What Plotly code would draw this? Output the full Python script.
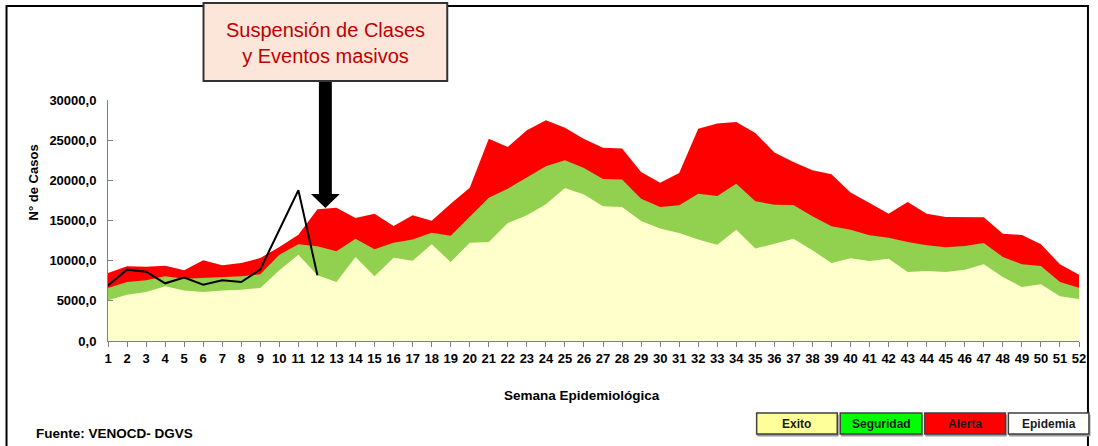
import plotly.graph_objects as go

# ---- data ----
weeks = list(range(1, 53))

alerta = [8470, 9300, 9250, 9380, 8800, 10040, 9420, 9700, 10330, 11700,
          13240, 16390, 16600, 15310, 15850, 14320, 15650, 14980, 17100, 19090,
          25190, 24150, 26230, 27470, 26560, 25130, 24070, 23950, 21040, 19710,
          20920, 26435, 27060, 27265, 25900, 23450, 22290, 21250, 20750, 18470,
          17180, 15850, 17300, 15850, 15440, 15440, 15400, 13360, 13200, 12035,
          9545, 8260]

seguridad = [6600, 7345, 7550, 8050, 7760, 7885, 7970, 8050, 8300, 10750,
             12035, 11790, 11160, 12740, 11410, 12240, 12620, 13490, 13110, 15440,
             17845, 18965, 20335, 21750, 22490, 21550, 20170, 20090, 17720, 16680,
             16890, 18340, 18050, 19590, 17390, 16970, 16930, 15520, 14280, 13860,
             13155, 12865, 12325, 11910, 11660, 11830, 12200, 10460, 9545, 9340,
             7345, 6640]

exito = [5063, 5770, 6100, 6800, 6300, 6100, 6300, 6390, 6600, 8800,
         10750, 8175, 7345, 10460, 8050, 10375, 10000, 12035, 9835, 12240,
         12325, 14690, 15645, 17015, 19050, 18240, 16770, 16680, 14940, 13990,
         13450, 12620, 11995, 13860, 11500, 12120, 12740, 11290, 9710, 10290,
         9960, 10250, 8590, 8715, 8590, 8880, 9545, 7970, 6720, 7055,
         5560, 5230]

epidemia_weeks = list(range(1, 13))
epidemia = [6900, 8880, 8630, 7180, 7885, 7010, 7550, 7345, 8920, 13800, 18760, 8175]

y_ticks = [0, 5000, 10000, 15000, 20000, 25000, 30000]
y_ticklabels = ["0,0", "5000,0", "10000,0", "15000,0", "20000,0", "25000,0", "30000,0"]

legend_labels = ["Exito", "Seguridad", "Alerta", "Epidemia"]
legend_colors = ["#FFFF99", "#00FF00", "#FF0000", "#FFFFFF"]

# ---- layout geometry helpers (pixels -> paper) ----
W, H = 1098, 446
L, R, T, B = 108, 14, 100, 105
PW, PH = W - L - R, H - T - B


def px(x):
    return (x - L) / PW


def py(y):
    return (H - B - y) / PH


fig = go.Figure()

fig.add_trace(go.Scatter(x=weeks, y=alerta, mode="lines", line=dict(width=0, color="#FF0000"),
                         fill="tozeroy", fillcolor="#FF0000", name="Alerta", hoverinfo="skip"))
fig.add_trace(go.Scatter(x=weeks, y=seguridad, mode="lines", line=dict(width=0, color="#92D050"),
                         fill="tozeroy", fillcolor="#92D050", name="Seguridad", hoverinfo="skip"))
fig.add_trace(go.Scatter(x=weeks, y=exito, mode="lines", line=dict(width=0, color="#FFFFCC"),
                         fill="tozeroy", fillcolor="#FFFFCC", name="Exito", hoverinfo="skip"))
fig.add_trace(go.Scatter(x=epidemia_weeks, y=epidemia, mode="lines",
                         line=dict(width=2, color="#000000"), name="Epidemia"))

font_family = "Liberation Sans, Arial, sans-serif"

fig.update_layout(
    width=W, height=H,
    margin=dict(l=L, r=R, t=T, b=B, pad=0),
    paper_bgcolor="white", plot_bgcolor="white",
    showlegend=False,
    font=dict(family=font_family, color="#000000"),
    xaxis=dict(range=[1, 52], tickmode="array", tickvals=weeks,
               ticktext=[str(w) for w in weeks],
               tickfont=dict(size=13, weight="bold", family=font_family),
               ticks="outside", ticklen=5, tickcolor="#808080",
               showline=True, linecolor="#808080", linewidth=1,
               showgrid=False, zeroline=False, fixedrange=True),
    yaxis=dict(range=[0, 30000], tickmode="array", tickvals=y_ticks, ticktext=y_ticklabels,
               tickfont=dict(size=13, weight="bold", family=font_family),
               ticks="inside", ticklen=5, tickcolor="#808080", ticklabelstandoff=8,
               showline=True, linecolor="#808080", linewidth=1,
               showgrid=False, zeroline=False, fixedrange=True),
)

shapes = []
annotations = []

# outer frame
shapes.append(dict(type="rect", xref="paper", yref="paper",
                   x0=px(6), x1=px(1093), y0=py(452), y1=py(6),
                   line=dict(color="#000000", width=2), fillcolor="rgba(0,0,0,0)", layer="above"))

# callout box
shapes.append(dict(type="rect", xref="paper", yref="paper",
                   x0=px(204), x1=px(449), y0=py(81), y1=py(3),
                   line=dict(color="#333333", width=2), fillcolor="#FCE6D9", layer="above"))
annotations.append(dict(xref="paper", yref="paper", x=px(326.5), y=py(43),
                        text="Suspensión de Clases<br>y Eventos masivos", showarrow=False,
                        font=dict(size=20, color="#C00000", family=font_family),
                        align="center", xanchor="center", yanchor="middle"))

# arrow (shaft + head)
sx0, sx1 = px(320), px(333)
hx0, hx1, tx = px(312), px(341), px(326.5)
shapes.append(dict(type="path", xref="paper", yref="paper",
                   path=(f"M {sx0} {py(82)} L {sx1} {py(82)} L {sx1} {py(194)} L {hx1} {py(194)} "
                         f"L {tx} {py(208)} L {hx0} {py(194)} L {sx0} {py(194)} Z"),
                   line=dict(color="#000000", width=0), fillcolor="#000000", layer="above"))

# axis titles and source
annotations.append(dict(xref="paper", yref="paper", x=px(33), y=py(182),
                        text="N° de Casos", textangle=-90, showarrow=False,
                        font=dict(size=13, weight="bold", family=font_family),
                        xanchor="center", yanchor="middle"))
annotations.append(dict(xref="paper", yref="paper", x=px(584), y=py(395),
                        text="Semana Epidemiológica", showarrow=False,
                        font=dict(size=13.5, weight="bold", family=font_family),
                        xanchor="center", yanchor="middle"))
annotations.append(dict(xref="paper", yref="paper", x=px(34), y=py(433),
                        text="Fuente: VENOCD- DGVS", showarrow=False,
                        font=dict(size=13.5, weight="bold", family=font_family),
                        xanchor="left", yanchor="middle"))

# custom legend boxes
box_x = [(760, 841), (844, 926), (929, 1010), (1013, 1094)]
for (x0, x1), lab, col in zip(box_x, legend_labels, legend_colors):
    shapes.append(dict(type="rect", xref="paper", yref="paper",
                       x0=px(x0 + 1), x1=px(x1 + 1), y0=py(436), y1=py(415),
                       line=dict(color="#9a9a9a", width=1), fillcolor="#9a9a9a", layer="above"))
    shapes.append(dict(type="rect", xref="paper", yref="paper",
                       x0=px(x0), x1=px(x1), y0=py(434), y1=py(413),
                       line=dict(color="#404040", width=1.5), fillcolor=col, layer="above"))
    annotations.append(dict(xref="paper", yref="paper", x=px((x0 + x1) / 2), y=py(424),
                            text=lab, showarrow=False,
                            font=dict(size=12, weight="bold", family=font_family, color="#1a1a1a"),
                            xanchor="center", yanchor="middle"))

fig.update_layout(shapes=shapes, annotations=annotations)

fig.write_html("out.html", config={"displayModeBar": False},
               post_script="document.body.style.margin='0';document.body.style.overflow='hidden';")
